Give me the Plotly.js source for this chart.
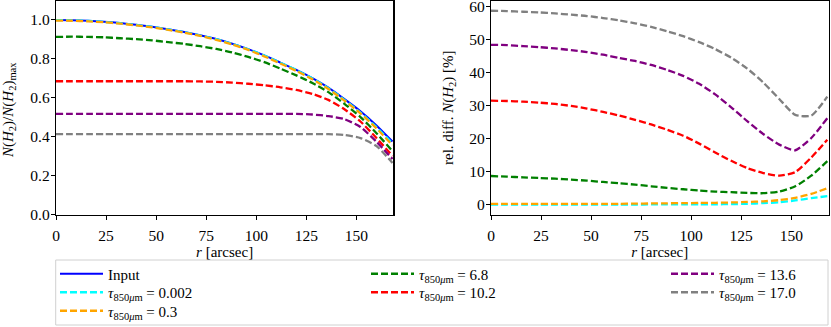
<!DOCTYPE html>
<html>
<head>
<meta charset="utf-8">
<script src="https://cdn.plot.ly/plotly-3.0.1.min.js"></script>
<style>
  html, body { margin: 0; padding: 0; background: #fff; }
  #chart { width: 831px; height: 327px; }
</style>
</head>
<body>
<div id="chart"></div>
<script>
// radius [arcsec]
const r = [0, 8, 16, 24, 32, 40, 48, 56, 64, 72, 80, 88, 96, 104, 112, 120, 128, 136, 144, 152, 160, 168];

// left panel: N(H2)/N(H2)_max
const nInput = [1.0, 0.999, 0.996, 0.991, 0.984, 0.975, 0.965, 0.952, 0.938, 0.921, 0.902, 0.878, 0.85, 0.818, 0.781, 0.743, 0.701, 0.652, 0.593, 0.531, 0.458, 0.375];
const nTau0002 = [0.9995, 0.998, 0.995, 0.99, 0.983, 0.974, 0.964, 0.951, 0.937, 0.92, 0.901, 0.877, 0.849, 0.817, 0.78, 0.742, 0.699, 0.649, 0.589, 0.524, 0.449, 0.365];
const nTau03 = [0.997, 0.996, 0.993, 0.988, 0.981, 0.972, 0.962, 0.949, 0.935, 0.918, 0.898, 0.874, 0.846, 0.813, 0.776, 0.738, 0.695, 0.645, 0.585, 0.52, 0.443, 0.356];
const nTau68 = [0.913, 0.914, 0.913, 0.911, 0.906, 0.901, 0.895, 0.886, 0.877, 0.865, 0.851, 0.833, 0.81, 0.783, 0.75, 0.715, 0.676, 0.629, 0.569, 0.501, 0.418, 0.326];
const nTau102 = [0.685, 0.685, 0.685, 0.685, 0.685, 0.685, 0.685, 0.685, 0.685, 0.684, 0.682, 0.678, 0.672, 0.664, 0.654, 0.64, 0.62, 0.589, 0.541, 0.478, 0.393, 0.301];
const nTau136 = [0.517, 0.517, 0.517, 0.517, 0.517, 0.517, 0.517, 0.517, 0.517, 0.517, 0.517, 0.517, 0.517, 0.517, 0.517, 0.517, 0.514, 0.506, 0.49, 0.45, 0.374, 0.285];
const nTau170 = [0.413, 0.413, 0.413, 0.413, 0.413, 0.413, 0.413, 0.413, 0.413, 0.413, 0.413, 0.413, 0.413, 0.413, 0.413, 0.413, 0.413, 0.413, 0.409, 0.393, 0.352, 0.265];

// right panel: rel. diff. N(H2) [%]
const dTau0002 = [0.05, 0.05, 0.05, 0.05, 0.05, 0.05, 0.05, 0.05, 0.05, 0.08, 0.1, 0.1, 0.1, 0.12, 0.15, 0.2, 0.3, 0.5, 0.75, 1.3, 2.0, 2.6];
const dTau03 = [0.3, 0.3, 0.3, 0.3, 0.3, 0.3, 0.3, 0.3, 0.3, 0.35, 0.4, 0.45, 0.5, 0.55, 0.6, 0.7, 0.85, 1.05, 1.4, 2.1, 3.3, 5.0];
const dTau68 = [8.7, 8.5, 8.3, 8.1, 7.9, 7.6, 7.3, 6.9, 6.5, 6.1, 5.6, 5.1, 4.7, 4.3, 4.0, 3.8, 3.6, 3.5, 4.0, 5.6, 8.8, 13.2];
const dTau102 = [31.5, 31.4, 31.2, 30.9, 30.5, 29.9, 29.1, 28.1, 27.0, 25.7, 24.3, 22.7, 20.9, 18.5, 15.8, 13.3, 11.1, 9.6, 8.8, 9.9, 14.3, 19.7];
const dTau136 = [48.4, 48.3, 48.0, 47.7, 47.3, 46.8, 46.2, 45.4, 44.4, 43.5, 42.3, 40.8, 39.0, 36.6, 33.4, 29.5, 25.3, 21.4, 18.2, 16.5, 20.2, 26.2];
const dTau170 = [58.7, 58.6, 58.4, 58.2, 57.9, 57.5, 57.1, 56.5, 55.8, 54.9, 53.8, 52.5, 51.0, 49.2, 47.1, 44.5, 41.2, 37.0, 32.0, 27.2, 27.0, 32.7];

const tauValues = ['0.002', '0.3', '6.8', '10.2', '13.6', '17.0'];

const FONT = 'Liberation Serif, Times New Roman, serif';
const W = 831, H = 327;
const tauLabel = v => '<i>τ</i><sub>850<i>μ</i>m</sub> = ' + v;

// legend slot: [left px, row centre px]
const series = [
  { name: 'Input', left: nInput, right: null, color: '#0000ff', dash: 'solid', slot: [55, 274] },
  { name: tauLabel(tauValues[0]), left: nTau0002, right: dTau0002, color: '#00ffff', dash: '7px,3px', slot: [55, 292.5] },
  { name: tauLabel(tauValues[1]), left: nTau03, right: dTau03, color: '#ffa500', dash: '7px,3px', slot: [55, 311] },
  { name: tauLabel(tauValues[2]), left: nTau68, right: dTau68, color: '#008000', dash: '7px,3px', slot: [366, 274] },
  { name: tauLabel(tauValues[3]), left: nTau102, right: dTau102, color: '#ff0000', dash: '7px,3px', slot: [366, 292.5] },
  { name: tauLabel(tauValues[4]), left: nTau136, right: dTau136, color: '#800080', dash: '7px,3px', slot: [666, 274] },
  { name: tauLabel(tauValues[5]), left: nTau170, right: dTau170, color: '#808080', dash: '7px,3px', slot: [666, 292.5] }
];

const traces = [];
const legends = {};
series.forEach((s, i) => {
  const key = i === 0 ? 'legend' : 'legend' + (i + 1);
  legends[key] = {
    bgcolor: 'rgba(0,0,0,0)', borderwidth: 0,
    font: { family: FONT, size: 15, color: '#000' },
    xanchor: 'left', yanchor: 'middle',
    x: s.slot[0] / W, y: (H - s.slot[1]) / H, itemwidth: 43
  };
  traces.push({
    x: r, y: s.left, name: s.name, type: 'scatter', mode: 'lines',
    line: { color: s.color, width: s.dash === 'solid' ? 2 : 2.3, dash: s.dash, shape: 'spline', smoothing: 0.6 },
    xaxis: 'x', yaxis: 'y', legend: key
  });
});
series.forEach(s => {
  if (!s.right) return;
  traces.push({
    x: r, y: s.right, name: s.name, type: 'scatter', mode: 'lines', showlegend: false,
    line: { color: s.color, width: 2.3, dash: s.dash, shape: 'spline', smoothing: 0.6 },
    xaxis: 'x2', yaxis: 'y2'
  });
});

const tickFont = { family: FONT, size: 15.5, color: '#000' };
const titleFont = { family: FONT, size: 15, color: '#000' };
const axisBase = {
  showgrid: false, zeroline: false, showline: true, mirror: true,
  linecolor: '#000', linewidth: 1.2, ticks: 'outside', ticklen: 4,
  tickwidth: 1, tickcolor: '#000', tickfont: tickFont, ticklabeloverflow: 'allow'
};

const yTop = 1 - 0.5 / H, yBot = (H - 214.5) / H;

const layout = Object.assign({
  width: W, height: H,
  margin: { l: 0, r: 0, t: 0, b: 0, autoexpand: false },
  paper_bgcolor: '#fff', plot_bgcolor: '#fff',
  font: { family: FONT, size: 15, color: '#000' },
  xaxis: Object.assign({}, axisBase, {
    domain: [56 / W, 393.3 / W], range: [0, 168.4], tick0: 0, dtick: 25, ticklabelstandoff: 3,
    title: { text: '<i>r</i> [arcsec]', standoff: 0, font: titleFont }
  }),
  yaxis: Object.assign({}, axisBase, {
    domain: [yBot, yTop], range: [0, 1.1], tick0: 0, dtick: 0.2, tickformat: '.1f', ticklabelstandoff: -2
  }),
  xaxis2: Object.assign({}, axisBase, {
    domain: [491 / W, 828.5 / W], range: [0, 168.6], tick0: 0, dtick: 25, anchor: 'y2', ticklabelstandoff: 3,
    title: { text: '<i>r</i> [arcsec]', standoff: 0, font: titleFont }
  }),
  yaxis2: Object.assign({}, axisBase, {
    domain: [yBot, yTop], range: [-2.94, 61.8], tick0: 0, dtick: 10, anchor: 'x2', ticklabelstandoff: -2
  }),
  annotations: [
    {
      text: '<i>N</i>(<i>H</i><sub>2</sub>)/<i>N</i>(<i>H</i><sub>2</sub>)<sub>max</sub>',
      xref: 'paper', yref: 'paper', x: 9 / W, y: (H - 110) / H,
      xanchor: 'center', yanchor: 'middle', textangle: -90, showarrow: false, font: titleFont
    },
    {
      text: 'rel. diff. <i>N</i>(<i>H</i><sub>2</sub>) [%]',
      xref: 'paper', yref: 'paper', x: 449 / W, y: (H - 108) / H,
      xanchor: 'center', yanchor: 'middle', textangle: -90, showarrow: false, font: titleFont
    }
  ],
  shapes: [{
    type: 'rect', xref: 'paper', yref: 'paper',
    x0: 55.7 / W, x1: 828 / W, y0: (H - 325) / H, y1: (H - 260) / H,
    line: { color: '#d0d0d0', width: 1 }, fillcolor: 'rgba(255,255,255,0.8)', layer: 'below'
  }],
  showlegend: true
}, legends);

Plotly.newPlot('chart', traces, layout, { displayModeBar: false, staticPlot: true });
</script>
</body>
</html>
